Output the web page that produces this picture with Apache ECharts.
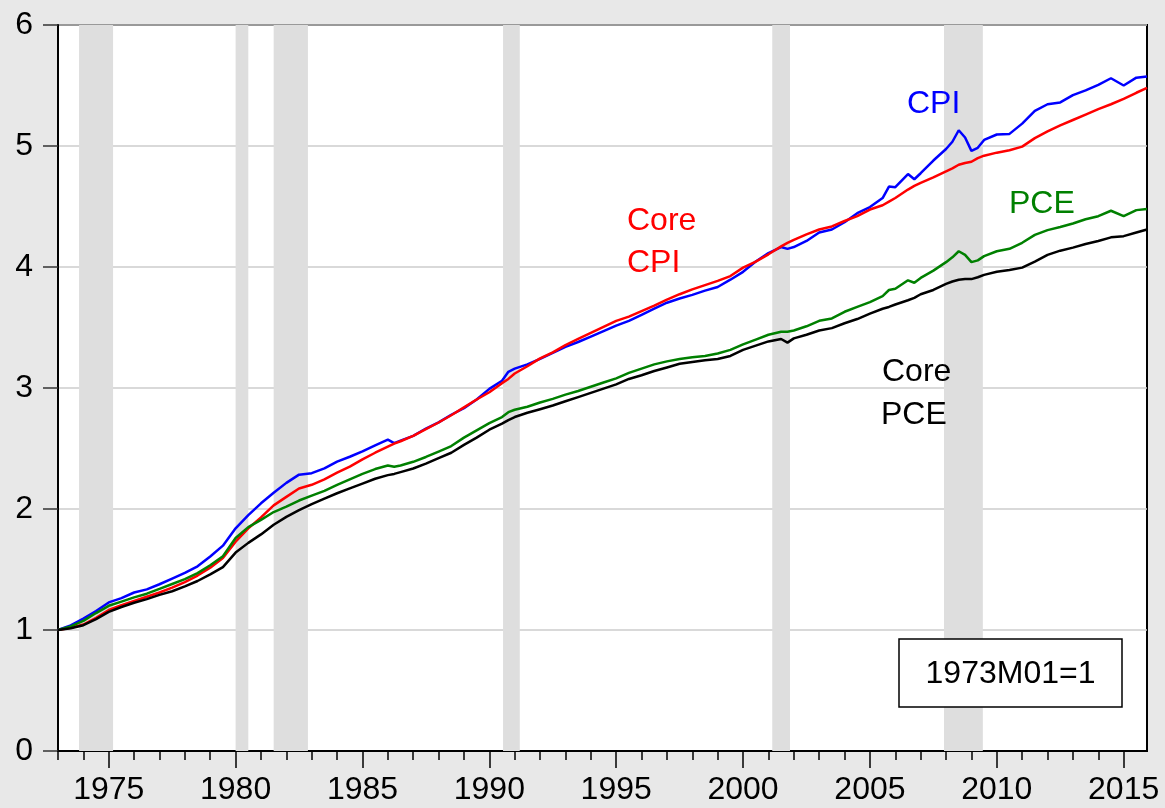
<!DOCTYPE html>
<html>
<head>
<meta charset="utf-8">
<script src="https://cdn.jsdelivr.net/npm/echarts@6/dist/echarts.min.js"></script>
<style>
  html, body { margin: 0; padding: 0; background: #e8e8e8; }
  #chart { width: 1165px; height: 808px; }
</style>
</head>
<body>
<div id="chart"></div>
<script>
// 价格指数，1973M01 = 1
const dates = [
  1973, 1973.5, 1974, 1974.5, 1975, 1975.5, 1976, 1976.5, 1977, 1977.5,
  1978, 1978.5, 1979, 1979.5, 1980, 1980.5, 1981, 1981.5, 1982, 1982.5,
  1983, 1983.5, 1984, 1984.5, 1985, 1985.5, 1986, 1986.25, 1986.5, 1987,
  1987.5, 1988, 1988.5, 1989, 1989.5, 1990, 1990.5, 1990.75, 1991, 1991.5,
  1992, 1992.5, 1993, 1993.5, 1994, 1994.5, 1995, 1995.5, 1996, 1996.5,
  1997, 1997.5, 1998, 1998.5, 1999, 1999.5, 2000, 2000.5, 2001, 2001.5,
  2001.75, 2002, 2002.5, 2003, 2003.5, 2004, 2004.5, 2005, 2005.5, 2005.75,
  2006, 2006.5, 2006.75, 2007, 2007.5, 2008, 2008.25, 2008.5, 2008.75, 2009,
  2009.25, 2009.5, 2010, 2010.5, 2011, 2011.5, 2012, 2012.5, 2013, 2013.5,
  2014, 2014.5, 2015, 2015.5, 2015.92
];

const cpi = [
  1.000, 1.038, 1.094, 1.157, 1.228, 1.263, 1.310, 1.336, 1.378, 1.425,
  1.472, 1.526, 1.608, 1.697, 1.840, 1.950, 2.047, 2.134, 2.216, 2.284,
  2.296, 2.336, 2.392, 2.432, 2.477, 2.526, 2.573, 2.545, 2.565, 2.605,
  2.665, 2.716, 2.779, 2.833, 2.905, 2.993, 3.060, 3.134, 3.160, 3.195,
  3.240, 3.290, 3.340, 3.380, 3.425, 3.470, 3.515, 3.555, 3.605, 3.655,
  3.705, 3.740, 3.770, 3.805, 3.835, 3.895, 3.960, 4.045, 4.115, 4.165,
  4.150, 4.165, 4.215, 4.285, 4.310, 4.370, 4.445, 4.495, 4.570, 4.665,
  4.660, 4.768, 4.725, 4.775, 4.880, 4.975, 5.035, 5.130, 5.070, 4.960,
  4.985, 5.050, 5.095, 5.100, 5.185, 5.290, 5.345, 5.360, 5.420, 5.460,
  5.505, 5.560, 5.500, 5.565, 5.575
];

const coreCpi = [
  1.000, 1.018, 1.045, 1.100, 1.165, 1.205, 1.240, 1.275, 1.310, 1.350,
  1.395, 1.450, 1.515, 1.595, 1.730, 1.840, 1.930, 2.030, 2.100, 2.170,
  2.200, 2.245, 2.300, 2.350, 2.410, 2.465, 2.515, 2.540, 2.560, 2.605,
  2.660, 2.715, 2.775, 2.840, 2.905, 2.965, 3.040, 3.075, 3.120, 3.180,
  3.245, 3.295, 3.355, 3.405, 3.455, 3.505, 3.555, 3.590, 3.635, 3.680,
  3.730, 3.775, 3.815, 3.850, 3.885, 3.925, 3.995, 4.045, 4.105, 4.170,
  4.200, 4.225, 4.270, 4.310, 4.335, 4.380, 4.420, 4.475, 4.510, 4.540,
  4.570, 4.640, 4.670, 4.695, 4.740, 4.790, 4.815, 4.845, 4.860, 4.870,
  4.900, 4.920, 4.945, 4.965, 4.995, 5.065, 5.120, 5.170, 5.215, 5.260,
  5.305, 5.345, 5.390, 5.440, 5.480
];

const pce = [
  1.000, 1.030, 1.075, 1.140, 1.200, 1.235, 1.270, 1.300, 1.340, 1.380,
  1.420, 1.470, 1.535, 1.610, 1.760, 1.850, 1.910, 1.975, 2.020, 2.070,
  2.110, 2.150, 2.200, 2.245, 2.290, 2.330, 2.360, 2.350, 2.360, 2.390,
  2.430, 2.475, 2.520, 2.590, 2.650, 2.710, 2.760, 2.800, 2.820, 2.845,
  2.880, 2.910, 2.945, 2.975, 3.010, 3.045, 3.080, 3.125, 3.160, 3.195,
  3.220, 3.240, 3.255, 3.265, 3.285, 3.315, 3.360, 3.400, 3.440, 3.465,
  3.465, 3.475, 3.510, 3.555, 3.575, 3.630, 3.670, 3.710, 3.760, 3.810,
  3.820, 3.890, 3.870, 3.910, 3.970, 4.040, 4.080, 4.130, 4.100, 4.040,
  4.055, 4.090, 4.130, 4.150, 4.200, 4.265, 4.305, 4.330, 4.360, 4.395,
  4.420, 4.465, 4.420, 4.470, 4.480
];

const corePce = [
  1.000, 1.015, 1.040, 1.090, 1.150, 1.190, 1.225, 1.255, 1.290, 1.320,
  1.360, 1.405, 1.460, 1.520, 1.640, 1.720, 1.790, 1.870, 1.935, 1.990,
  2.040, 2.085, 2.130, 2.170, 2.210, 2.250, 2.280, 2.290, 2.305, 2.335,
  2.375, 2.420, 2.465, 2.530, 2.590, 2.655, 2.705, 2.735, 2.760, 2.795,
  2.825, 2.855, 2.890, 2.925, 2.960, 2.995, 3.030, 3.075, 3.105, 3.140,
  3.170, 3.200, 3.215, 3.230, 3.240, 3.265, 3.315, 3.350, 3.385, 3.405,
  3.375, 3.410, 3.440, 3.475, 3.495, 3.535, 3.570, 3.615, 3.655, 3.670,
  3.690, 3.725, 3.745, 3.775, 3.810, 3.860, 3.880, 3.895, 3.900, 3.900,
  3.915, 3.935, 3.960, 3.975, 3.995, 4.045, 4.100, 4.135, 4.160, 4.190,
  4.215, 4.245, 4.255, 4.285, 4.310
];

// NBER 衰退期
const recessions = [
  [1973.83, 1975.17],
  [1980.0, 1980.5],
  [1981.5, 1982.85],
  [1990.54, 1991.2],
  [2001.15, 2001.85],
  [2007.92, 2009.45]
];

const yearTicks = [];
for (let y = 1973; y <= 2015; y++) yearTicks.push(y);
const yearLabels = [1975, 1980, 1985, 1990, 1995, 2000, 2005, 2010, 2015];

const FONT = '"Liberation Sans", Arial, sans-serif';
const X_MIN = 1973;
const X_MAX = 2015.92;

const pair = (vals) => dates.map((d, i) => [d, vals[i]]);

const lineSeries = (name, vals, color) => ({
  name,
  type: 'line',
  data: pair(vals),
  symbol: 'none',
  smooth: false,
  z: 3,
  lineStyle: { color, width: 2.5 },
  silent: true,
  animation: false
});

// 标注文字（放在最上层）
const label = (text, x, y, color) => ({
  type: 'text', x, y, z: 100,
  style: { text, fill: color, font: '32px ' + FONT, verticalAlign: 'middle' }
});

const chart = echarts.init(document.getElementById('chart'), null, { renderer: 'canvas' });

chart.setOption({
  backgroundColor: '#e8e8e8',
  animation: false,
  grid: {
    left: 58, top: 25, width: 1089, height: 726,
    show: true, backgroundColor: '#ffffff', borderColor: '#000000', borderWidth: 2
  },
  xAxis: [
    {
      type: 'value', min: X_MIN, max: X_MAX,
      axisLine: { show: true, lineStyle: { color: '#000', width: 2 } },
      axisTick: { show: true, inside: false, length: 9, customValues: yearTicks,
        lineStyle: { color: '#000', width: 1.5 } },
      axisLabel: { show: false },
      splitLine: { show: false }
    },
    {
      type: 'value', min: X_MIN, max: X_MAX, position: 'bottom',
      axisLine: { show: false },
      axisTick: { show: true, inside: false, length: 17, customValues: yearLabels,
        lineStyle: { color: '#000', width: 1.5 } },
      axisLabel: { show: true, customValues: yearLabels, margin: 23,
        color: '#000', fontSize: 32, fontFamily: FONT,
        formatter: (v) => String(v) },
      splitLine: { show: false }
    }
  ],
  yAxis: {
    type: 'value', min: 0, max: 6, interval: 1,
    axisLine: { show: true, lineStyle: { color: '#000', width: 2 } },
    axisTick: { show: true, inside: false, length: 15, lineStyle: { color: '#333', width: 1.5 } },
    axisLabel: { margin: 25, color: '#000', fontSize: 32, fontFamily: FONT },
    splitLine: { show: true, lineStyle: { color: '#cccccc', width: 1.5 } }
  },
  series: [
    {
      name: 'recessions', type: 'line', data: [], z: 1, silent: true,
      markArea: {
        silent: true,
        itemStyle: { color: '#dedede' },
        data: recessions.map(([a, b]) => [{ xAxis: a }, { xAxis: b }])
      }
    },
    lineSeries('CPI', cpi, '#0000ff'),
    lineSeries('Core CPI', coreCpi, '#ff0000'),
    lineSeries('PCE', pce, '#008000'),
    lineSeries('Core PCE', corePce, '#000000')
  ],
  graphic: [
    label('CPI', 907, 104, '#0000ff'),
    label('Core', 627, 221, '#ff0000'),
    label('CPI', 627, 263, '#ff0000'),
    label('PCE', 1009, 204, '#008000'),
    label('Core', 882, 372, '#000000'),
    label('PCE', 881, 415, '#000000'),
    {
      type: 'rect', x: 899, y: 639, z: 100,
      shape: { width: 223, height: 68 },
      style: { fill: '#ffffff', stroke: '#000000', lineWidth: 1.5 }
    },
    {
      type: 'text', x: 1010.5, y: 674, z: 101,
      style: { text: '1973M01=1', fill: '#000', font: '32px ' + FONT, align: 'center', verticalAlign: 'middle' }
    }
  ]
});
</script>
</body>
</html>
